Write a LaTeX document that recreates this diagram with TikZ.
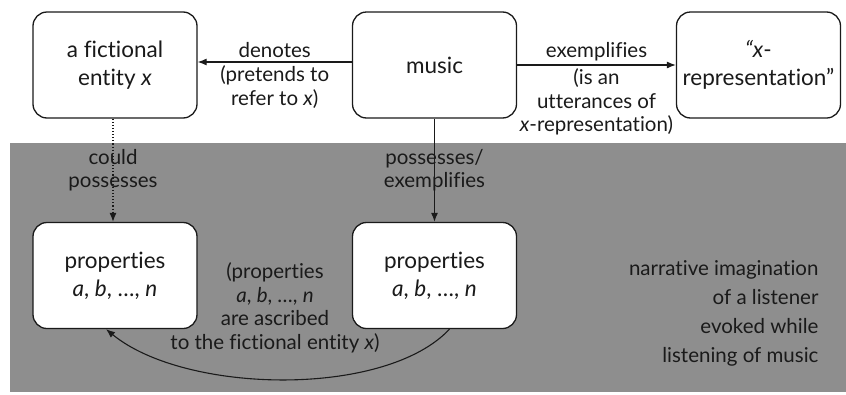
\documentclass[tikz,border=0pt]{standalone}
\usepackage{fontspec}
\setmainfont{Lato}[Ligatures=NoCommon]
\usepackage{tikz}
\usetikzlibrary{arrows.meta}
\definecolor{ImagGray}{HTML}{8E8E8E}
\definecolor{InkCol}{HTML}{1A1A1A}

\begin{document}
\begin{tikzpicture}[x=1pt,y=-1pt,>={Latex[length=9pt,width=7pt]}]
  \tikzstyle{entbox}=[draw=InkCol, line width=1.3pt, rounded corners=14pt, fill=white,
               minimum width=164pt, minimum height=106pt, align=center,
               font=\fontsize{22.5}{28}\selectfont, text=InkCol]
  \tikzstyle{lbl}=[align=center, font=\fontsize{20.5}{23.5}\selectfont, text=InkCol]
  \tikzstyle{conn}=[draw=InkCol, line width=1.1pt, ->]
  \useasboundingbox (0,0) rectangle (846,394);
  % imagination area
  \fill[ImagGray] (10,143) rectangle (846,392);
  % upper row
  \node[entbox] (fict) at (115,65) {a fictional\\entity \textit{x}};
  \node[entbox] (music) at (434.5,65) {music};
  \node[entbox] (xrep) at (758.5,65) {\textit{“x}-\\representation”};
  % lower row
  \node[entbox] (propL) at (115,275.5) {properties\\\textit{a}, \textit{b}, \dots, \textit{n}};
  \node[entbox] (propR) at (434.5,275.5) {properties\\\textit{a}, \textit{b}, \dots, \textit{n}};
  % connectors
  \draw[conn] ([yshift=3pt]music.west) -- node[lbl, above=0pt] {denotes}
    node[lbl, below=0pt] {(pretends to\\refer to \textit{x})} ([yshift=3pt]fict.east);
  \draw[conn] (music.east) -- node[lbl, above=0pt] {exemplifies}
    node[lbl, below=0pt] {(is an\\utterances of\\\textit{x}-representation)} (xrep.west);
  \draw[conn, dotted] ([xshift=-2pt]fict.south) -- node[lbl] {could\\possesses} ([xshift=-2pt]propL.north);
  \draw[conn] (music.south) -- node[lbl] {possesses/\\exemplifies} (propR.north);
  \draw[conn] ([xshift=15pt]propR.south) .. controls (385,398) and (185,394) .. ([xshift=-9pt]propL.south);
  % texts in the gray area
  \node[lbl] (ascr) at (275,308) {(properties\\\textit{a}, \textit{b}, \dots, \textit{n}\\are ascribed\\to the fictional entity \textit{x})};
  \node[lbl, align=right, anchor=east, font=\fontsize{20.5}{29}\selectfont] (narr) at (822,313)
    {narrative imagination\\of a listener\\evoked while\\listening of music};
\end{tikzpicture}
\end{document}
